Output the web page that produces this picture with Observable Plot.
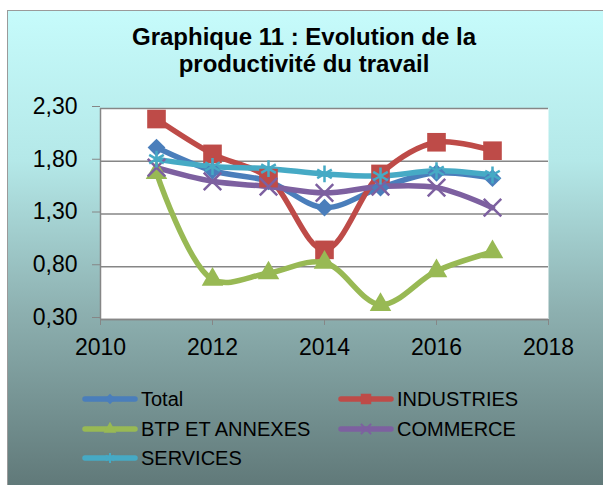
<!DOCTYPE html>
<html><head><meta charset="utf-8">
<script src="https://cdn.jsdelivr.net/npm/d3@7"></script>
<script src="https://cdn.jsdelivr.net/npm/@observablehq/plot@0.6"></script>
<style>
html,body{margin:0;padding:0;background:#fff;width:603px;height:485px;overflow:hidden;font-family:"Liberation Sans",Arial,sans-serif;}
#frame{position:absolute;left:7px;top:10px;width:620px;height:500px;border-left:1.5px solid #9a9a9a;border-top:1.5px solid #9a9a9a;
 background:linear-gradient(to bottom,#c6fbfb 0%,#b4e8e8 30%,#8db0b0 60%,#5a7171 100%);}
#chart{position:absolute;left:0;top:0;}
#title{position:absolute;left:104px;width:400px;top:23px;text-align:center;font-weight:bold;font-size:24px;line-height:27px;color:#000;}
.leg{position:absolute;font-size:20px;color:#000;height:24px;line-height:24px;white-space:nowrap;}
.leg svg{position:absolute;left:0;top:0;}
.leg span{position:absolute;left:59px;top:0;}
</style></head>
<body>
<div id="frame"></div>
<div id="chart"></div>
<div id="title">Graphique 11 : Evolution de la<br>productivité du travail</div>
<div id="legend"></div>
<script>
const years = [2011, 2012, 2013, 2014, 2015, 2016, 2017];
const seriesNames = ["Total", "INDUSTRIES", "BTP ET ANNEXES", "COMMERCE", "SERVICES"];
const total      = [1.93, 1.71, 1.61, 1.36, 1.55, 1.69, 1.64];
const industries = [2.20, 1.87, 1.64, 0.96, 1.68, 1.98, 1.90];
const btp        = [1.69, 0.68, 0.74, 0.84, 0.44, 0.76, 0.94];
const commerce   = [1.74, 1.61, 1.56, 1.50, 1.56, 1.55, 1.36];
const services   = [1.82, 1.75, 1.73, 1.68, 1.66, 1.71, 1.67];
const yTicks = [0.30, 0.80, 1.30, 1.80, 2.30];
const xTicks = [2010, 2012, 2014, 2016, 2018];

const colors = ["#4a7ebb", "#be4b48", "#98b954", "#7d60a0", "#46aac5"];
const symbols = ["diamond2", "square", "triangle", "times", "asterisk"];
const radii = [8, 10.5, 8, 8, 8];
const allValues = [total, industries, btp, commerce, services];

const data = [];
seriesNames.forEach((s, i) => years.forEach((y, j) => data.push({series: s, year: y, value: allValues[i][j]})));

const fmt = d => d.toFixed(2).replace(".", ",");

const marks = [
  Plot.frame({fill: "white", stroke: null}),
  Plot.gridY(yTicks, {stroke: "#868686", strokeOpacity: 1, strokeWidth: 1.3}),
  Plot.ruleX([2010], {stroke: "#868686", strokeWidth: 1.5}),
  Plot.ruleY([0.3], {stroke: "#868686", strokeWidth: 1.5}),
  Plot.axisY({ticks: yTicks, tickFormat: fmt, tickSize: 8, tickPadding: 15, stroke: "#868686", fontSize: 23, label: null, dy: -2}),
  Plot.axisX({ticks: xTicks, tickFormat: d => String(d), tickSize: 6, tickPadding: 13, stroke: "#868686", fontSize: 23, label: null}),
];
seriesNames.forEach((s, i) => {
  const d = data.filter(r => r.series === s);
  marks.push(Plot.line(d, {x: "year", y: "value", stroke: colors[i], strokeWidth: 5.5, curve: "catmull-rom"}));
});
seriesNames.forEach((s, i) => {
  const d = data.filter(r => r.series === s);
  const strokeSym = symbols[i] === "times" || symbols[i] === "asterisk";
  marks.push(Plot.dot(d, {x: "year", y: "value", symbol: () => symbols[i], r: radii[i],
    fill: strokeSym ? "none" : colors[i], stroke: strokeSym ? colors[i] : "none", strokeWidth: 2.5}));
});

const chart = Plot.plot({
  width: 603, height: 485,
  marginLeft: 100, marginRight: 55, marginTop: 108, marginBottom: 166,
  style: {background: "transparent", fontFamily: "'Liberation Sans', Arial, sans-serif", color: "#000"},
  x: {domain: [2010, 2018], axis: null},
  y: {domain: [0.3, 2.3], axis: null},
  symbol: {type: "identity"},
  marks
});
document.getElementById("chart").appendChild(chart);

// legend
const legPos = [[82, 387], [338, 387], [82, 417], [338, 417], [82, 446]];
const legend = document.getElementById("legend");
seriesNames.forEach((s, i) => {
  const div = document.createElement("div");
  div.className = "leg";
  div.style.left = legPos[i][0] + "px";
  div.style.top = legPos[i][1] + "px";
  const sym = d3.symbol().type({diamond2: d3.symbolDiamond2, square: d3.symbolSquare, triangle: d3.symbolTriangle, times: d3.symbolTimes, asterisk: d3.symbolAsterisk}[symbols[i]]).size(i === 1 ? 110 : 70)();
  const strokeSym = symbols[i] === "times" || symbols[i] === "asterisk";
  div.innerHTML = `<svg width="58" height="24"><line x1="3" x2="53" y1="12" y2="12" stroke="${colors[i]}" stroke-width="5.5" stroke-linecap="round"/>` +
    `<path transform="translate(28,12)" d="${sym}" fill="${strokeSym ? "none" : colors[i]}" stroke="${strokeSym ? colors[i] : "none"}" stroke-width="2"/></svg><span>${s}</span>`;
  legend.appendChild(div);
});
</script>
</body></html>
